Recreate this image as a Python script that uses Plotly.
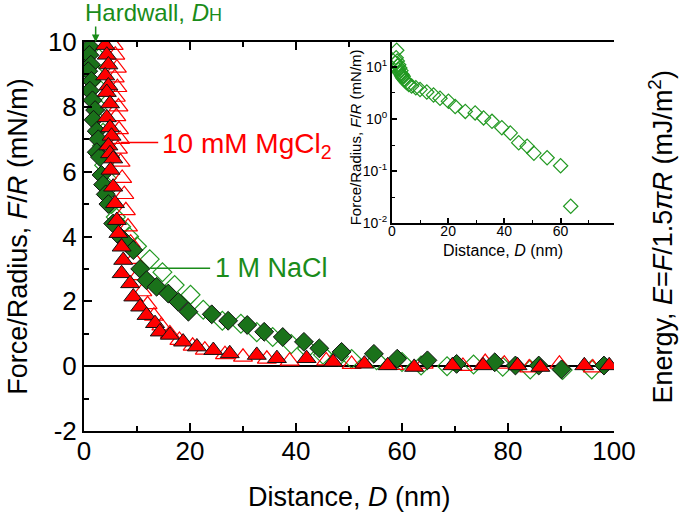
import math
import plotly.graph_objects as go

# ---------------- data ----------------
# 1 M NaCl, filled diamonds (main plot)
NACL_FILLED_D = [0.6, 1.1, 1.0, 1.3, 0.8, 1.4, 1.1, 1.6, 2.1, 1.8, 2.4, 2.7, 2.4, 3.0, 3.3, 3.6,
                 4.1, 4.6, 5.5, 6.8, 8.0, 9.3, 10.6, 11.8, 13.7, 15.9, 17.8, 19.7, 24.1, 27.2,
                 30.8, 34.0, 37.5, 41.5, 44.4, 48.6, 54.7, 59.1, 64.8, 70.3, 77.5, 81.4, 85.8,
                 90.1, 98.1]
NACL_FILLED_F = [9.6, 9.85, 9.6, 9.3, 9.1, 8.8, 8.5, 8.2, 7.9, 7.6, 7.25, 7.0, 6.6, 6.45, 5.9, 5.6,
                 5.3, 5.0, 4.4, 4.0, 3.8, 3.58, 3.0, 2.65, 2.45, 2.24, 1.98, 1.68, 1.6, 1.4,
                 1.27, 1.06, 0.9, 0.75, 0.55, 0.44, 0.38, 0.23, 0.18, 0.07, 0.12, 0.02, 0.02,
                 -0.1, 0.02]

# 1 M NaCl, open diamonds (main plot and log inset)
NACL_OPEN_D = [1.2, 1.5, 1.7, 1.9, 2.0, 2.2, 2.4, 2.6, 2.8, 3.0, 3.2, 3.4, 3.6, 3.8, 4.0, 4.3,
               4.6, 5.2, 6.0, 7.0, 8.5, 10.0, 12.4, 14.8, 17.1, 20.1, 22.5, 26.1, 29.6, 32.6,
               35.6, 39.1, 42.1, 45.1, 48.1, 50.5, 55.2, 60.0, 63.6]
NACL_OPEN_F = [12.0, 15.0, 21.0, 13.0, 10.5, 9.0, 11.0, 8.0, 9.5, 7.5, 8.5, 6.8, 7.2, 6.2, 6.6, 5.8,
               5.5, 5.0, 4.6, 4.3, 4.0, 3.7, 3.3, 2.9, 2.5, 2.2, 1.74, 1.40, 1.31, 1.05,
               0.90, 0.68, 0.54, 0.35, 0.30, 0.22, 0.18, 0.126, 0.021]
# 1 M NaCl, open diamonds near zero (main plot only)
NACL_OPEN_TAIL_D = [68.5, 73.5, 79.0, 84.2, 90.3, 95.8]
NACL_OPEN_TAIL_F = [0.0, 0.05, -0.02, -0.1, -0.12, -0.1]

# 10 mM MgCl2, filled triangles
MG_FILLED_D = [4.0, 4.3, 4.6, 4.0, 4.6, 4.3, 4.9, 4.3, 4.9, 5.2, 4.6, 4.9, 5.5, 5.0, 5.5, 5.85,
               6.2, 6.5, 7.1, 7.4, 7.1, 8.7, 9.3, 10.6, 11.8, 13.4, 14.3, 16.2, 18.7, 21.3,
               24.4, 27.5, 32.6, 36.4, 42.0, 47.0, 52.9, 57.3, 62.3, 69.5, 75.3, 81.8, 86.1,
               94.4, 99.1]
MG_FILLED_F = [9.9, 9.6, 9.3, 8.96, 8.65, 8.45, 8.1, 7.67, 7.36, 7.1, 6.8, 6.56, 6.4, 6.05, 5.53, 5.02,
               4.5, 4.1, 3.68, 3.27, 2.86, 2.55, 2.14, 1.83, 1.57, 1.32, 1.06, 0.96, 0.75, 0.6,
               0.49, 0.39, 0.34, 0.24, 0.24, 0.13, 0.07, 0.02, -0.03, 0.02, 0.02, 0.02, -0.03,
               0.02, 0.02]

# 10 mM MgCl2, open triangles
MG_OPEN_D = [5.6, 5.9, 6.2, 5.8, 6.3, 6.0, 6.5, 6.1, 6.6, 6.8, 6.4, 6.9, 7.2, 7.6, 7.9, 8.3,
             8.8, 9.4, 10.2, 11.0, 12.0, 13.2, 14.6, 16.2, 18.0, 20.5, 22.8, 26.6, 30.0, 34.5,
             38.8, 45.7, 50.5, 58.5, 64.1, 71.5, 75.7, 79.3, 84.0, 89.7, 96.0]
MG_OPEN_F = [9.9, 9.6, 9.2, 8.9, 8.6, 8.3, 8.0, 7.7, 7.3, 7.0, 6.7, 6.3, 5.8, 5.3, 4.8, 4.3,
             3.8, 3.3, 2.8, 2.3, 1.9, 1.55, 1.25, 1.0, 0.8, 0.62, 0.5, 0.36, 0.28, 0.22,
             0.16, 0.17, 0.06, 0.03, 0.07, 0.0, 0.12, 0.07, -0.05, 0.07, -0.05]

X_TICKS = [0, 20, 40, 60, 80, 100]
X_MINOR = [10, 30, 50, 70, 90]
Y_TICKS = [-2, 0, 2, 4, 6, 8, 10]
Y_TICKTEXT = ["-2", "0", "2", "4", "6", "8", "10"]
Y_MINOR = [-1, 1, 3, 5, 7, 9]
E_TICKS = [0, 1, 2]
E_MINOR = [0.5, 1.5]
INSET_X_TICKS = [0, 20, 40, 60]
INSET_X_MINOR = [10, 30, 50, 70]
INSET_Y_TICKVALS = [0.01, 0.1, 1, 10]
INSET_Y_TICKTEXT = ["10<sup>-2</sup>", "10<sup>-1</sup>", "10<sup>0</sup>", "10<sup>1</sup>"]
INSET_Y_MINOR = [0.0316, 0.316, 3.16]

Y_RANGE = [-2, 10]
E_FACTOR = 1.5 * math.pi  # E = (F/R) / (1.5 pi)

GREEN_DARK = "#1a721a"
GREEN = "#229922"
GREEN_TEXT = "#1a8c1a"
RED = "#ff0000"
FONT = "Liberation Sans, Arial, sans-serif"

fig = go.Figure()

fig.add_trace(go.Scatter(x=NACL_OPEN_D + NACL_OPEN_TAIL_D, y=NACL_OPEN_F + NACL_OPEN_TAIL_F,
                         mode="markers", xaxis="x", yaxis="y",
                         marker=dict(symbol="diamond-open", size=14.5, color=GREEN,
                                     line=dict(width=1.2, color=GREEN)), showlegend=False))
fig.add_trace(go.Scatter(x=MG_OPEN_D, y=MG_OPEN_F, mode="markers", xaxis="x", yaxis="y",
                         marker=dict(symbol="triangle-up-open", size=16.5, color=RED,
                                     line=dict(width=1.2, color=RED)), showlegend=False))
fig.add_trace(go.Scatter(x=NACL_FILLED_D, y=NACL_FILLED_F, mode="markers", xaxis="x", yaxis="y",
                         marker=dict(symbol="diamond", size=14.5, color=GREEN_DARK,
                                     line=dict(width=1, color="#111111")), showlegend=False))
fig.add_trace(go.Scatter(x=MG_FILLED_D, y=MG_FILLED_F, mode="markers", xaxis="x", yaxis="y",
                         marker=dict(symbol="triangle-up", size=16.5, color=RED,
                                     line=dict(width=1, color="#111111")), showlegend=False))

# inset (log scale)
fig.add_trace(go.Scatter(x=NACL_OPEN_D, y=NACL_OPEN_F, mode="markers", xaxis="x3", yaxis="y3",
                         marker=dict(symbol="diamond-open", size=11, color=GREEN,
                                     line=dict(width=1.2, color=GREEN)), showlegend=False))

axis_common = dict(showline=True, linecolor="black", linewidth=2, ticks="inside",
                   tickcolor="black", tickwidth=1.5, showgrid=False, zeroline=False)

fig.update_layout(
    width=686, height=519,
    margin=dict(l=84, r=72, t=42, b=88),
    paper_bgcolor="white", plot_bgcolor="white",
    font=dict(family=FONT, color="black"),
    xaxis=dict(domain=[0, 1], range=[0, 100], anchor="y", tickvals=X_TICKS, ticklen=8,
               mirror="ticks", tickfont=dict(size=26), ticklabelstandoff=-4,
               minor=dict(tickvals=X_MINOR, ticklen=5, ticks="inside", tickcolor="black", tickwidth=1.5),
               **axis_common),
    yaxis=dict(range=Y_RANGE, anchor="x", tickvals=Y_TICKS, ticktext=Y_TICKTEXT, ticklen=8,
               mirror=False, tickfont=dict(size=26),
               minor=dict(tickvals=Y_MINOR, ticklen=5, ticks="inside", tickcolor="black", tickwidth=1.5),
               **{k: v for k, v in axis_common.items() if k != "zeroline"},
               zeroline=True, zerolinecolor="black", zerolinewidth=1.5),
    yaxis2=dict(range=[Y_RANGE[0] / E_FACTOR, Y_RANGE[1] / E_FACTOR], overlaying="y", side="right",
                anchor="x", tickvals=E_TICKS, ticklen=8, tickfont=dict(size=26),
                minor=dict(tickvals=E_MINOR, ticklen=5, ticks="inside", tickcolor="black", tickwidth=1.5),
                **axis_common),
    xaxis3=dict(domain=[0.581, 1.0], range=[0, 79], anchor="y3", tickvals=INSET_X_TICKS,
                ticklen=5, tickfont=dict(size=14), ticklabelstandoff=-6,
                minor=dict(tickvals=INSET_X_MINOR, ticklen=3, ticks="inside", tickcolor="black", tickwidth=1.2),
                **axis_common),
    yaxis3=dict(domain=[0.5347, 1.0], type="log", range=[-2, 1.48], anchor="x3",
                tickvals=INSET_Y_TICKVALS, ticktext=INSET_Y_TICKTEXT, ticklen=5,
                tickfont=dict(size=14),
                minor=dict(tickvals=INSET_Y_MINOR, ticklen=3, ticks="inside", tickcolor="black", tickwidth=1.2),
                **axis_common),
)

# label lines
fig.add_shape(type="line", xref="x", yref="y", x0=6.9, x1=14.0, y0=6.9, y1=6.9,
              line=dict(color=RED, width=1.5))
fig.add_shape(type="line", xref="x", yref="y", x0=12.5, x1=23.8, y0=3.02, y1=3.02,
              line=dict(color=GREEN_TEXT, width=1.5))

annotations = [
    # axis titles
    dict(text="Distance, <i>D</i> (nm)", xref="paper", yref="paper", x=0.5, y=-0.170,
         showarrow=False, font=dict(size=27), xanchor="center", yanchor="middle"),
    dict(text="Force/Radius, <i>F</i>/<i>R</i> (mN/m)", xref="paper", yref="paper", x=-0.126, y=0.5,
         textangle=-90, showarrow=False, font=dict(size=27), xanchor="center", yanchor="middle"),
    dict(text="Energy, <i>E</i>=<i>F</i>/1.5<i>π</i><i>R</i> (mJ/m<sup>2</sup>)", xref="paper",
         yref="paper", x=1.087, y=0.5, textangle=-90, showarrow=False, font=dict(size=27),
         xanchor="center", yanchor="middle"),
    # inset titles
    dict(text="Distance, <i>D</i> (nm)", xref="paper", yref="paper", x=0.7906, y=0.463,
         showarrow=False, font=dict(size=16), xanchor="center", yanchor="middle"),
    dict(text="Force/Radius, <i>F</i>/<i>R</i> (mN/m)", xref="paper", yref="paper", x=0.5113, y=0.755,
         textangle=-90, showarrow=False, font=dict(size=15), xanchor="center", yanchor="middle"),
    # labels
    dict(text='Hardwall, <i>D</i><span style="font-size:18px">H</span>', xref="paper", yref="paper",
         x=-0.002, y=1.0746, showarrow=False, font=dict(size=24, color=GREEN_TEXT),
         xanchor="left", yanchor="middle"),
    dict(text="", xref="x", yref="y", x=2.2, y=10, ax=0, ay=-17, showarrow=True,
         arrowhead=2, arrowsize=1, arrowwidth=1.5, arrowcolor=GREEN_TEXT),
    dict(text="10 mM MgCl<sub>2</sub>", xref="x", yref="y", x=14.3, y=6.8, showarrow=False,
         font=dict(size=28, color=RED), xanchor="left", yanchor="middle"),
    dict(text="1 M NaCl", xref="x", yref="y", x=24.4, y=3.02, showarrow=False,
         font=dict(size=27, color=GREEN_TEXT), xanchor="left", yanchor="middle"),
]
fig.update_layout(annotations=annotations)

# the browser's default 8px body margin would shift the figure; remove it
fig.write_html("out.html", config={"displayModeBar": False},
               post_script="document.body.style.margin='0';")
